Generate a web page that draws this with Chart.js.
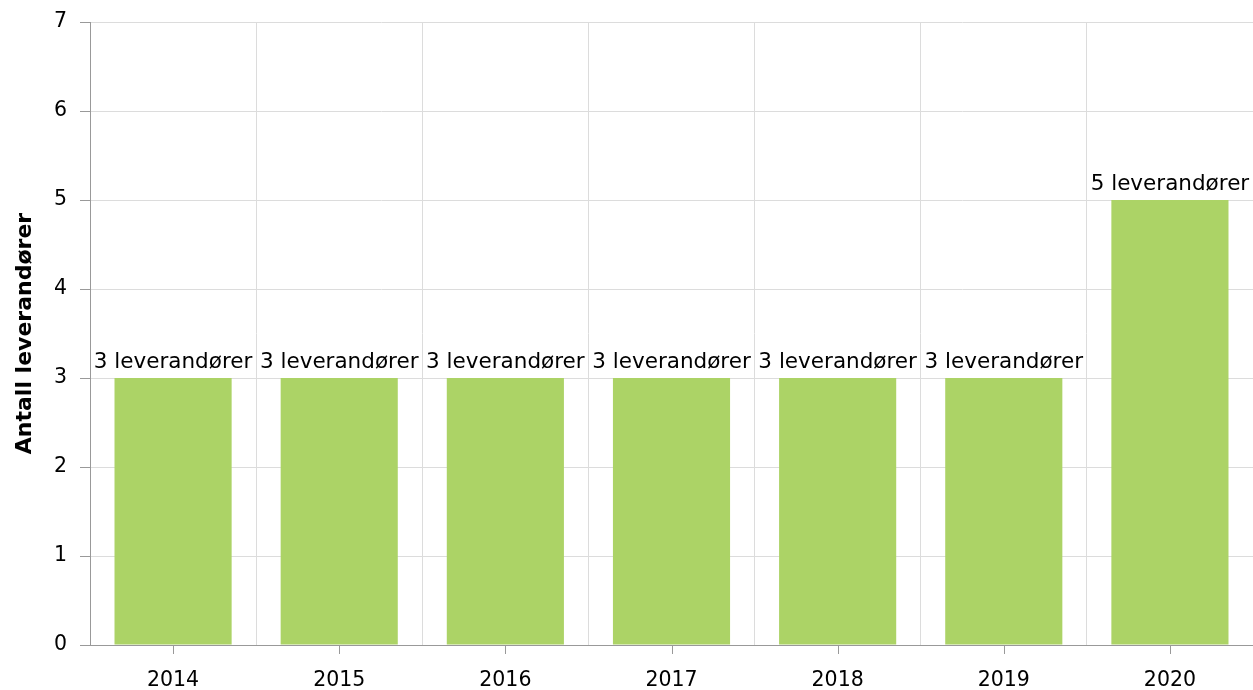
<!DOCTYPE html>
<html>
<head>
<meta charset="utf-8">
<script src="https://cdn.jsdelivr.net/npm/chart.js@4"></script>
<style>
  html, body { margin: 0; padding: 0; background: #fff; }
  #wrap { width: 1253px; height: 690px; }
</style>
</head>
<body>
<div id="wrap"><canvas id="chart"></canvas></div>
<script>
// data
const years = ['2014', '2015', '2016', '2017', '2018', '2019', '2020'];
const antall = [3, 3, 3, 3, 3, 3, 5];
const etiketter = ['3 leverandører', '3 leverandører', '3 leverandører', '3 leverandører', '3 leverandører', '3 leverandører', '5 leverandører'];
const yTicks = [0, 1, 2, 3, 4, 5, 6, 7];

const FONT = '"DejaVu Sans", Verdana, sans-serif';

// etiketter over stolpene
const barLabels = {
  id: 'barLabels',
  afterDatasetsDraw(chart) {
    const ctx = chart.ctx;
    const meta = chart.getDatasetMeta(0);
    ctx.save();
    ctx.font = '21.5px ' + FONT;
    ctx.fillStyle = '#000';
    ctx.textAlign = 'center';
    ctx.textBaseline = 'alphabetic';
    meta.data.forEach((bar, i) => {
      ctx.fillText(etiketter[i], bar.x, bar.y - 10);
    });
    ctx.restore();
  }
};

// tick-streker midt under hver kategori
const centerTicks = {
  id: 'centerTicks',
  afterDraw(chart) {
    const x = chart.scales.x;
    const ctx = chart.ctx;
    ctx.save();
    ctx.strokeStyle = '#999';
    ctx.lineWidth = 1;
    ctx.beginPath();
    years.forEach((y, i) => {
      const px = Math.round(x.getPixelForValue(i)) + 0.5;
      ctx.moveTo(px, x.top);
      ctx.lineTo(px, x.top + 9);
    });
    ctx.stroke();
    ctx.restore();
  }
};

new Chart(document.getElementById('chart').getContext('2d'), {
  type: 'bar',
  data: {
    labels: years,
    datasets: [{
      label: 'Antall leverandører',
      data: antall,
      backgroundColor: '#acd366',
      borderWidth: 0,
      categoryPercentage: 0.705,
      barPercentage: 1.0
    }]
  },
  options: {
    responsive: true,
    maintainAspectRatio: false,
    animation: false,
    layout: { padding: { top: 22, right: 0, left: 0, bottom: 0 } },
    plugins: {
      legend: { display: false },
      tooltip: { enabled: false }
    },
    scales: {
      x: {
        offset: true,
        grid: { offset: true, color: '#dcdcdc', drawTicks: false },
        border: { color: '#999', width: 1 },
        ticks: { color: '#000', font: { family: FONT, size: 20.5 }, padding: 23, maxRotation: 0 },
        afterFit: s => { s.height = 45; s.paddingLeft = 0; s.paddingRight = 0; }
      },
      y: {
        min: 0,
        max: 7,
        afterBuildTicks: s => { s.ticks = yTicks.map(v => ({ value: v })); },
        grid: { color: '#dcdcdc', tickLength: 10, tickColor: '#999' },
        border: { color: '#999', width: 1 },
        ticks: { color: '#000', font: { family: FONT, size: 20.5 }, padding: 13 },
        title: {
          display: true,
          text: 'Antall leverandører',
          color: '#000',
          font: { family: FONT, size: 22, weight: 'bold' },
          padding: { top: 12, bottom: 0 }
        },
        afterFit: s => { s.width = 90; s.paddingTop = 0; s.paddingBottom = 0; }
      }
    }
  },
  plugins: [barLabels, centerTicks]
});
</script>
</body>
</html>
